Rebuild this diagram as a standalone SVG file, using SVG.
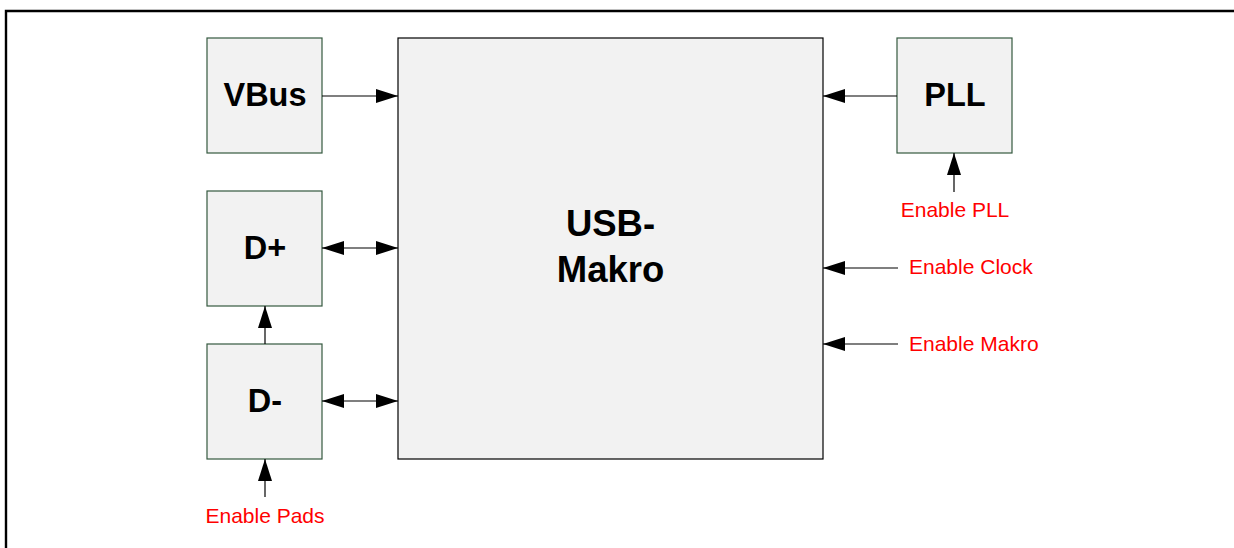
<svg xmlns="http://www.w3.org/2000/svg" width="1234" height="548" viewBox="0 0 1234 548">
  <style>
    .blk { fill: #f2f2f2; stroke: #34593f; stroke-width: 1.2; }
    .main { fill: #f2f2f2; stroke: #000; stroke-width: 1.2; }
    .lbl { font-family: "Liberation Sans", Arial, sans-serif; font-weight: bold; fill: #000; text-anchor: middle; }
    .sig { font-family: "Liberation Sans", Arial, sans-serif; font-size: 21px; fill: #ff0000; }
    .wire { stroke: #000; stroke-width: 1.2; fill: none; }
  </style>
  <defs>
    <marker id="arr" markerUnits="userSpaceOnUse" markerWidth="24" markerHeight="16" refX="22" refY="7" orient="auto-start-reverse">
      <path d="M0,0 L22,7 L0,14 z" fill="#000"/>
    </marker>
  </defs>

  <rect width="1234" height="548" fill="#fff"/>

  <!-- page frame -->
  <path d="M6,548 V11 H1234" fill="none" stroke="#000" stroke-width="2.4"/>

  <g id="usb-makro">
    <rect class="main" x="398" y="38" width="425" height="421"/>
    <text class="lbl" x="610.5" y="236" font-size="36.5">USB-</text>
    <text class="lbl" x="610.5" y="282" font-size="36.5">Makro</text>
  </g>

  <g id="vbus">
    <rect class="blk" x="207" y="38" width="115" height="115"/>
    <text class="lbl" x="265" y="106" font-size="32.5">VBus</text>
  </g>

  <g id="dplus">
    <rect class="blk" x="207" y="191" width="115" height="115"/>
    <text class="lbl" x="265" y="259" font-size="32.5">D+</text>
  </g>

  <g id="dminus">
    <rect class="blk" x="207" y="344" width="115" height="115"/>
    <text class="lbl" x="265" y="412" font-size="32.5">D-</text>
  </g>

  <g id="pll">
    <rect class="blk" x="897" y="38" width="115" height="115"/>
    <text class="lbl" x="955" y="106" font-size="32.5">PLL</text>
  </g>

  <g id="signals">
    <text class="sig" x="265" y="523" text-anchor="middle">Enable Pads</text>
    <text class="sig" x="955" y="217" text-anchor="middle">Enable PLL</text>
    <text class="sig" x="909" y="274">Enable Clock</text>
    <text class="sig" x="909" y="351">Enable Makro</text>
  </g>

  <g id="connectors">
    <line class="wire" x1="322" y1="96" x2="398" y2="96" marker-end="url(#arr)"/>
    <line class="wire" x1="322" y1="248" x2="398" y2="248" marker-start="url(#arr)" marker-end="url(#arr)"/>
    <line class="wire" x1="322" y1="401" x2="398" y2="401" marker-start="url(#arr)" marker-end="url(#arr)"/>
    <line class="wire" x1="265" y1="344" x2="265" y2="306" marker-end="url(#arr)"/>
    <line class="wire" x1="265" y1="497" x2="265" y2="459" marker-end="url(#arr)"/>
    <line class="wire" x1="897" y1="96" x2="823" y2="96" marker-end="url(#arr)"/>
    <line class="wire" x1="954" y1="192" x2="954" y2="153" marker-end="url(#arr)"/>
    <line class="wire" x1="898" y1="268" x2="823" y2="268" marker-end="url(#arr)"/>
    <line class="wire" x1="898" y1="344" x2="823" y2="344" marker-end="url(#arr)"/>
  </g>
</svg>
